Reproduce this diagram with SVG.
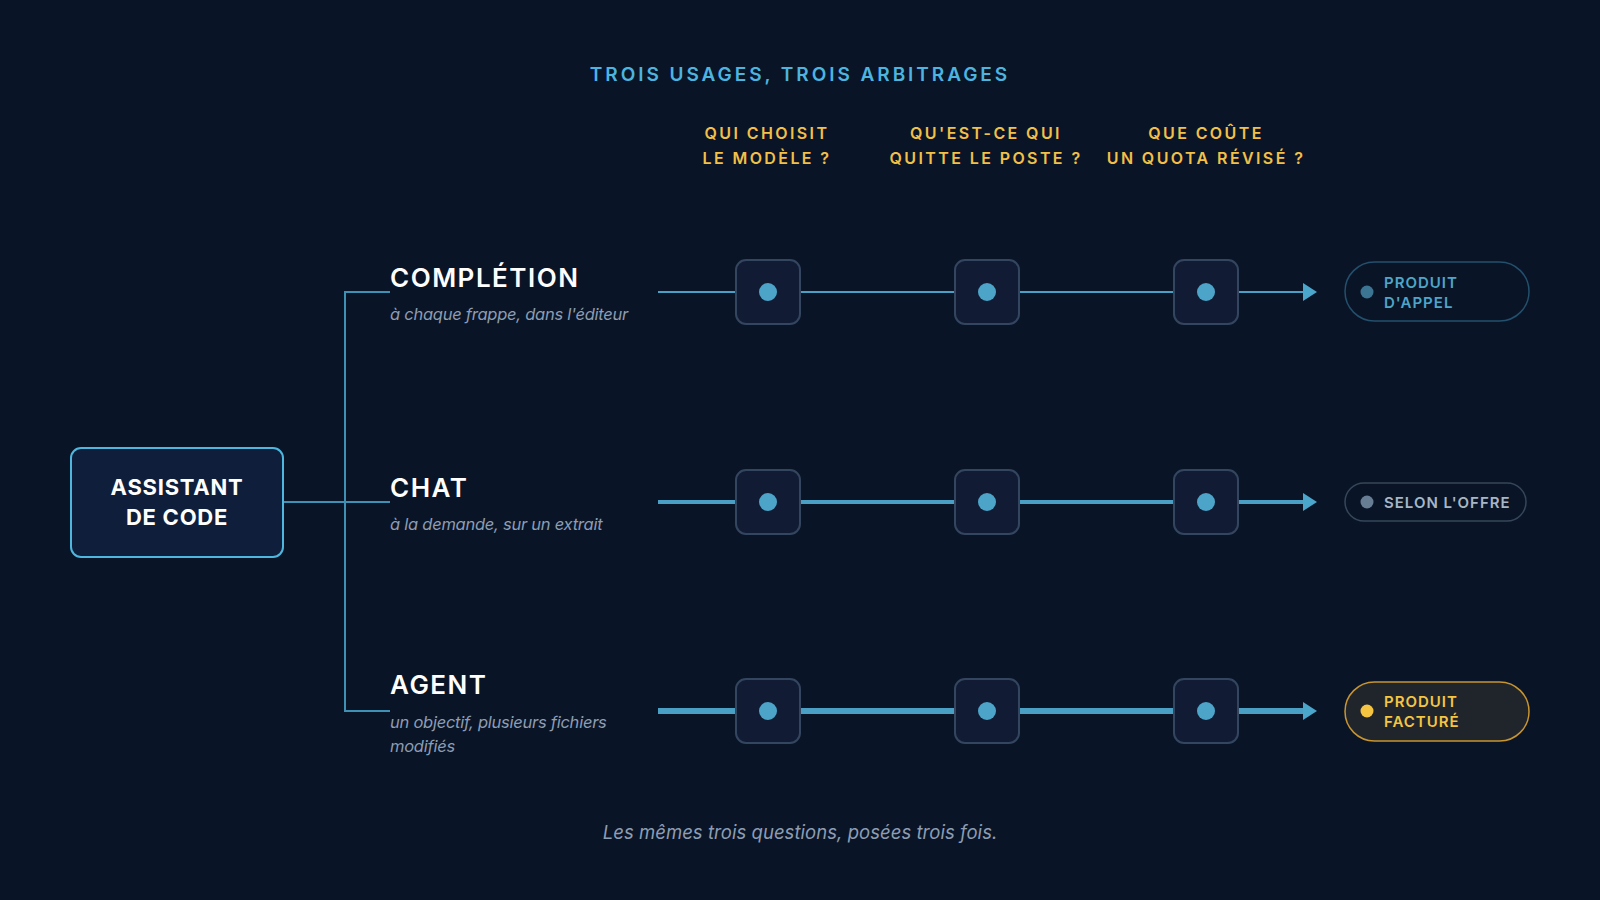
<svg xmlns="http://www.w3.org/2000/svg" width="1600" height="900" viewBox="0 0 1600 900">
<defs>
<style>
.bg{fill:#0a1427}
.title{font-family:Inter,"Noto Sans",sans-serif;font-size:19px;font-weight:600;fill:#4db4e0;letter-spacing:2.95px;text-anchor:middle}
.hdr{font-family:Inter,"Noto Sans",sans-serif;font-size:16px;font-weight:600;fill:#f3c047;letter-spacing:2.4px;text-anchor:middle}
.lbl{font-family:Inter,"Noto Sans",sans-serif;font-size:26px;font-weight:600;fill:#ffffff;letter-spacing:1.5px}
.sub{font-family:Inter,"Noto Sans",sans-serif;font-size:16.5px;font-style:italic;fill:#8d9db2;letter-spacing:-0.25px}
.main{fill:#0f1f3b;stroke:#4fb6dd;stroke-width:2}
.maintxt{font-family:Inter,"Noto Sans",sans-serif;font-size:22px;font-weight:700;fill:#ffffff;text-anchor:middle;letter-spacing:0.75px}
.node rect{fill:#111c34;stroke:#34455f;stroke-width:2}
.node circle{fill:#4da4c9}
.conn{fill:none;stroke:#3f90b5;stroke-width:2}
.row{stroke:#4a9fc5;fill:none}
.arrow{fill:#4ba6cc}
.pilltxt{font-family:Inter,"Noto Sans",sans-serif;font-size:15px;font-weight:600;letter-spacing:1px}
.foot{font-family:Inter,"Noto Sans",sans-serif;font-size:18.5px;font-style:italic;fill:#8d9db2;text-anchor:middle;letter-spacing:0.05px}
</style>
</defs>
<rect class="bg" x="0" y="0" width="1600" height="900"/>

<text class="title" x="800" y="81">TROIS USAGES, TROIS ARBITRAGES</text>

<g id="headers">
<text class="hdr" x="767" y="139">QUI CHOISIT</text>
<text class="hdr" x="767" y="164">LE MODÈLE ?</text>
<text class="hdr" x="986" y="139">QU'EST-CE QUI</text>
<text class="hdr" x="986" y="164">QUITTE LE POSTE ?</text>
<text class="hdr" x="1206" y="139">QUE COÛTE</text>
<text class="hdr" x="1206" y="164">UN QUOTA RÉVISÉ ?</text>
</g>

<g id="connectors">
<path class="conn" d="M390 292 H345 V711 H390"/>
<path class="conn" d="M283 502 H390"/>
<line class="row" x1="658" y1="292" x2="1305" y2="292" stroke-width="2"/>
<polygon class="arrow" points="1303,283 1317,292 1303,301"/>
<line class="row" x1="658" y1="502" x2="1305" y2="502" stroke-width="4"/>
<polygon class="arrow" points="1303,493 1317,502 1303,511"/>
<line class="row" x1="658" y1="711" x2="1305" y2="711" stroke-width="6"/>
<polygon class="arrow" points="1303,702 1317,711 1303,720"/>
</g>

<g id="assistant">
<rect class="main" x="71" y="448" width="212" height="109" rx="10"/>
<text class="maintxt" x="177" y="495">ASSISTANT</text>
<text class="maintxt" x="177" y="525">DE CODE</text>
</g>

<g id="completion">
<text class="lbl" x="390" y="287">COMPLÉTION</text>
<text class="sub" x="390" y="320">à chaque frappe, dans l'éditeur</text>
</g>
<g id="chat">
<text class="lbl" x="390" y="497">CHAT</text>
<text class="sub" x="390" y="530">à la demande, sur un extrait</text>
</g>
<g id="agent">
<text class="lbl" x="390" y="694">AGENT</text>
<text class="sub" x="390" y="728">un objectif, plusieurs fichiers</text>
<text class="sub" x="390" y="752">modifiés</text>
</g>

<g id="n-completion-1" class="node"><rect x="736" y="260" width="64" height="64" rx="10"/><circle cx="768" cy="292" r="9"/></g>
<g id="n-completion-2" class="node"><rect x="955" y="260" width="64" height="64" rx="10"/><circle cx="987" cy="292" r="9"/></g>
<g id="n-completion-3" class="node"><rect x="1174" y="260" width="64" height="64" rx="10"/><circle cx="1206" cy="292" r="9"/></g>
<g id="n-chat-1" class="node"><rect x="736" y="470" width="64" height="64" rx="10"/><circle cx="768" cy="502" r="9"/></g>
<g id="n-chat-2" class="node"><rect x="955" y="470" width="64" height="64" rx="10"/><circle cx="987" cy="502" r="9"/></g>
<g id="n-chat-3" class="node"><rect x="1174" y="470" width="64" height="64" rx="10"/><circle cx="1206" cy="502" r="9"/></g>
<g id="n-agent-1" class="node"><rect x="736" y="679" width="64" height="64" rx="10"/><circle cx="768" cy="711" r="9"/></g>
<g id="n-agent-2" class="node"><rect x="955" y="679" width="64" height="64" rx="10"/><circle cx="987" cy="711" r="9"/></g>
<g id="n-agent-3" class="node"><rect x="1174" y="679" width="64" height="64" rx="10"/><circle cx="1206" cy="711" r="9"/></g>

<g id="pill-completion">
<rect x="1345" y="262" width="184" height="59" rx="29.5" fill="#0a1427" stroke="#23506c" stroke-width="1.5"/>
<circle cx="1367" cy="292" r="6.5" fill="#3c7593"/>
<text class="pilltxt" x="1384" y="288" fill="#4ea5cb">PRODUIT</text>
<text class="pilltxt" x="1384" y="308" fill="#4ea5cb">D'APPEL</text>
</g>
<g id="pill-chat">
<rect x="1345" y="483" width="181" height="38" rx="19" fill="#0a1427" stroke="#36465a" stroke-width="1.5"/>
<circle cx="1367" cy="502" r="6.5" fill="#677d94"/>
<text class="pilltxt" x="1384" y="507.5" fill="#a7b6c6">SELON L'OFFRE</text>
</g>
<g id="pill-agent">
<rect x="1345" y="682" width="184" height="59" rx="29.5" fill="#20252b" stroke="#c8952f" stroke-width="1.5"/>
<circle cx="1367" cy="711" r="6.5" fill="#f5c542"/>
<text class="pilltxt" x="1384" y="707" fill="#f5c542">PRODUIT</text>
<text class="pilltxt" x="1384" y="727" fill="#f5c542">FACTURÉ</text>
</g>

<text class="foot" x="800" y="839">Les mêmes trois questions, posées trois fois.</text>
</svg>
